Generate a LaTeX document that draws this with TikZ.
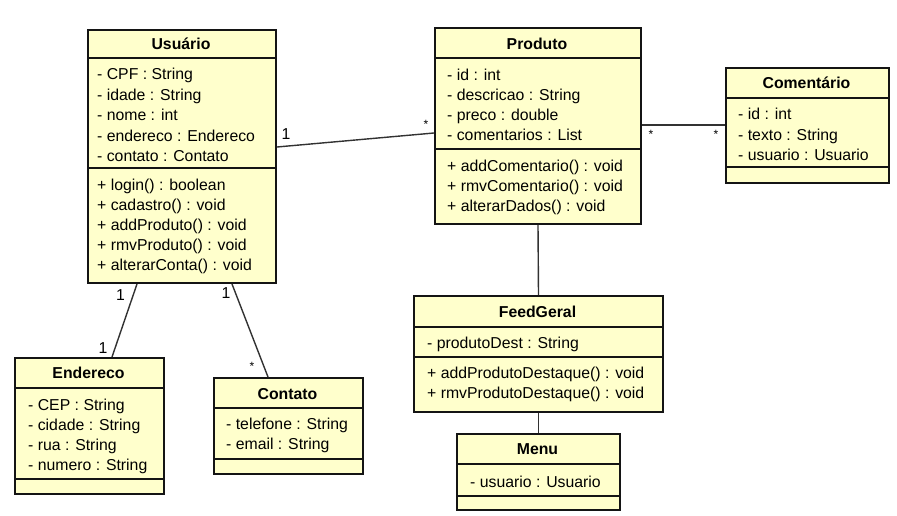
\documentclass[tikz,border=0pt]{standalone}
\usepackage{fontspec}
\setmainfont{Liberation Sans}
\usetikzlibrary{calc}
\definecolor{umlfill}{RGB}{255,255,204}
\definecolor{umlline}{RGB}{20,20,20}
\definecolor{connline}{RGB}{50,50,50}
\tikzset{
  umlbox/.style={draw=umlline, line width=2pt, fill=umlfill, anchor=north west, inner sep=0pt},
  sepline/.style={draw=umlline, line width=1.3pt},
  txt/.style={anchor=base west, inner sep=0pt, font=\fontsize{15.8}{18}\selectfont},
  ttl/.style={anchor=base, inner sep=0pt, font=\fontsize{15.8}{18}\selectfont\bfseries},
  conn/.style={draw=connline, line width=1.4pt},
  mult/.style={inner sep=0pt, font=\fontsize{15.8}{18}\selectfont},
  star/.style={inner sep=0pt, font=\fontsize{12}{14}\selectfont},
}
\begin{document}
\begin{tikzpicture}[x=1pt,y=-1pt]
\useasboundingbox (0,0) rectangle (897,516);
\fill[white] (0,0) rectangle (897,516);

% ---------- Usuario ----------
\node[umlbox, minimum width=188pt, minimum height=253pt] (usu) at (87,29) {};
\draw[sepline] (usu.west |- 0,58) -- (usu.east |- 0,58);
\draw[sepline] (usu.west |- 0,168) -- (usu.east |- 0,168);
\node[ttl] (usut) at (181,49.7) {Usuário};
\node[txt] (usua1) at (97,79.7) {- CPF : String};
\node[txt] (usua2) at (97,100.2) {- idade : String};
\node[txt] (usua3) at (97,120.7) {- nome : int};
\node[txt] (usua4) at (97,141.2) {- endereco : Endereco};
\node[txt] (usua5) at (97,161.7) {- contato : Contato};
\node[txt] (usum1) at (97,190.7) {+ login() : boolean};
\node[txt] (usum2) at (97,210.7) {+ cadastro() : void};
\node[txt] (usum3) at (97,230.7) {+ addProduto() : void};
\node[txt] (usum4) at (97,250.7) {+ rmvProduto() : void};
\node[txt] (usum5) at (97,270.7) {+ alterarConta() : void};

% ---------- Produto ----------
\node[umlbox, minimum width=206pt, minimum height=196pt] (prod) at (434,27) {};
\draw[sepline] (prod.west |- 0,58) -- (prod.east |- 0,58);
\draw[sepline] (prod.west |- 0,149) -- (prod.east |- 0,149);
\node[ttl] (prodt) at (537,49.7) {Produto};
\node[txt] (proda1) at (447,80.7) {- id : int};
\node[txt] (proda2) at (447,100.7) {- descricao : String};
\node[txt] (proda3) at (447,120.7) {- preco : double};
\node[txt] (proda4) at (447,140.2) {- comentarios : List};
\node[txt] (prodm1) at (447,171.7) {+ addComentario() : void};
\node[txt] (prodm2) at (447,191.7) {+ rmvComentario() : void};
\node[txt] (prodm3) at (447,211.7) {+ alterarDados() : void};

% ---------- Comentario ----------
\node[umlbox, minimum width=163pt, minimum height=115pt] (com) at (725,67) {};
\draw[sepline] (com.west |- 0,98) -- (com.east |- 0,98);
\draw[sepline] (com.west |- 0,167) -- (com.east |- 0,167);
\node[ttl] (comt) at (806.5,88.7) {Comentário};
\node[txt] (coma1) at (738,119.7) {- id : int};
\node[txt] (coma2) at (738,140.2) {- texto : String};
\node[txt] (coma3) at (738,160.7) {- usuario : Usuario};

% ---------- FeedGeral ----------
\node[umlbox, minimum width=249pt, minimum height=116pt] (feed) at (413,295) {};
\draw[sepline] (feed.west |- 0,327) -- (feed.east |- 0,327);
\draw[sepline] (feed.west |- 0,357) -- (feed.east |- 0,357);
\node[ttl] (feedt) at (537.5,317.7) {FeedGeral};
\node[txt] (feeda1) at (427,348.7) {- produtoDest : String};
\node[txt] (feedm1) at (427,378.7) {+ addProdutoDestaque() : void};
\node[txt] (feedm2) at (427,398.7) {+ rmvProdutoDestaque() : void};

% ---------- Menu ----------
\node[umlbox, minimum width=163pt, minimum height=76pt] (menu) at (456,433) {};
\draw[sepline] (menu.west |- 0,464) -- (menu.east |- 0,464);
\draw[sepline] (menu.west |- 0,496) -- (menu.east |- 0,496);
\node[ttl] (menut) at (537.5,454.7) {Menu};
\node[txt] (menua1) at (470,487.7) {- usuario : Usuario};

% ---------- Endereco ----------
\node[umlbox, minimum width=149pt, minimum height=136pt] (end) at (14,357) {};
\draw[sepline] (end.west |- 0,388) -- (end.east |- 0,388);
\draw[sepline] (end.west |- 0,479) -- (end.east |- 0,479);
\node[ttl] (endt) at (88.5,378.7) {Endereco};
\node[txt] (enda1) at (28,410.7) {- CEP : String};
\node[txt] (enda2) at (28,430.7) {- cidade : String};
\node[txt] (enda3) at (28,450.7) {- rua : String};
\node[txt] (enda4) at (28,470.7) {- numero : String};

% ---------- Contato ----------
\node[umlbox, minimum width=149pt, minimum height=96pt] (cont) at (213,377) {};
\draw[sepline] (cont.west |- 0,408) -- (cont.east |- 0,408);
\draw[sepline] (cont.west |- 0,459) -- (cont.east |- 0,459);
\node[ttl] (contt) at (287.5,399.7) {Contato};
\node[txt] (conta1) at (226,429.7) {- telefone : String};
\node[txt] (conta2) at (226,449.7) {- email : String};

% ---------- Connectors ----------
\draw[conn] (usu.east |- 0,147) -- (prod.west |- 0,133);
\node[mult] (m1) at (286,134) {1};
\node[star] (m2) at (426,124) {*};

\draw[conn] (prod.east |- 0,125) -- (com.west |- 0,125);
\node[star] (m3) at (651,134) {*};
\node[star] (m4) at (716,134) {*};

\draw[conn] (prod.south) -- (feed.north);
\draw[conn] (feed.south) -- (menu.north);

\draw[conn] (usu.south -| 137,0) -- (end.north -| 112,0);
\node[mult] (m5) at (120.5,295) {1};
\node[mult] (m6) at (103,348) {1};

\draw[conn] (usu.south -| 232,0) -- (cont.north -| 268,0);
\node[mult] (m7) at (226,293.5) {1};
\node[star] (m8) at (252,366) {*};
\end{tikzpicture}
\end{document}
